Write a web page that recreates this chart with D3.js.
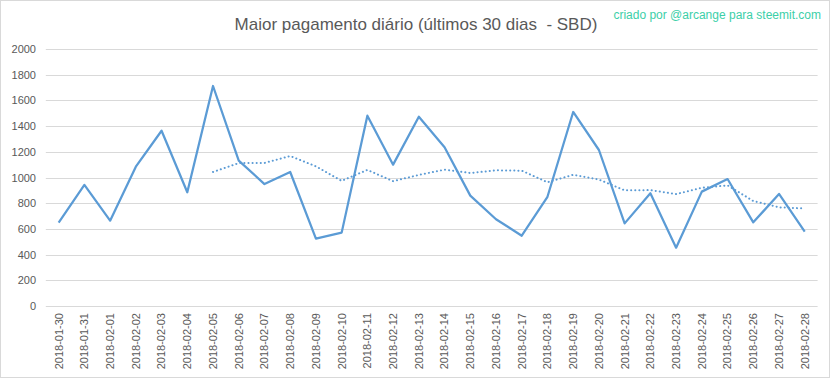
<!DOCTYPE html>
<html>
<head>
<meta charset="utf-8">
<script src="https://cdn.jsdelivr.net/npm/d3@7"></script>
<style>
  html, body { margin: 0; padding: 0; background: #fff; }
  svg { display: block; }
</style>
</head>
<body>
<svg id="chart" width="833" height="379"></svg>
<script>
const categories = ["2018-01-30","2018-01-31","2018-02-01","2018-02-02","2018-02-03","2018-02-04","2018-02-05","2018-02-06","2018-02-07","2018-02-08","2018-02-09","2018-02-10","2018-02-11","2018-02-12","2018-02-13","2018-02-14","2018-02-15","2018-02-16","2018-02-17","2018-02-18","2018-02-19","2018-02-20","2018-02-21","2018-02-22","2018-02-23","2018-02-24","2018-02-25","2018-02-26","2018-02-27","2018-02-28"];
const payouts = [648,942,664,1084,1364,885,1712,1131,949,1043,524,571,1481,1100,1473,1235,859,675,547,850,1510,1214,643,877,454,890,988,651,872,578];
// dotted trend line (starts at 2018-02-05)
const trend = [null,null,null,null,null,null,1043,1112,1113,1167,1087,974,1059,971,1020,1061,1035,1056,1053,963,1021,984,900,902,871,920,939,817,768,759];
const yTicks = [0,200,400,600,800,1000,1200,1400,1600,1800,2000];
const titleText = "Maior pagamento diário (últimos 30 dias  - SBD)";
const creditText = "criado por @arcange para steemit.com";

const svg = d3.select("#chart");
const plot = {left: 45.8, right: 817.6, top: 49, bottom: 306};
const font = "'Liberation Sans', Arial, sans-serif";

svg.append("rect").attr("x", 0.5).attr("y", 0.5).attr("width", 829).attr("height", 377)
  .attr("fill", "#fff").attr("stroke", "#D9D9D9").attr("stroke-width", 1);

const x = d3.scaleBand().domain(categories).range([plot.left, plot.right]);
const y = d3.scaleLinear().domain([0, 2000]).range([plot.bottom, plot.top]);
const cx = d => x(d) + x.bandwidth() / 2;

// gridlines
svg.append("g").selectAll("line").data(yTicks).join("line")
  .attr("x1", plot.left).attr("x2", plot.right)
  .attr("y1", d => Math.round(y(d)) + 0.5).attr("y2", d => Math.round(y(d)) + 0.5)
  .attr("stroke", "#D9D9D9").attr("stroke-width", 1);

// y axis labels
const yAxis = d3.axisLeft(y).tickValues(yTicks).tickFormat(d3.format("d")).tickSize(0).tickPadding(0);
const gy = svg.append("g").attr("transform", `translate(36,0)`).call(yAxis);
gy.select(".domain").remove();
gy.selectAll("text").attr("font-family", font).attr("font-size", 11).attr("fill", "#595959");

// x axis labels
const xAxis = d3.axisBottom(x).tickSize(0).tickPadding(0);
const gx = svg.append("g").attr("transform", `translate(0,${plot.bottom})`).call(xAxis);
gx.select(".domain").remove();
gx.selectAll("text")
  .attr("font-family", font).attr("font-size", 11).attr("fill", "#595959")
  .attr("transform", "rotate(-90)")
  .attr("text-anchor", "end")
  .attr("x", -7).attr("y", 0).attr("dy", "0.35em");

// lines
const line = d3.line().defined(d => d[1] != null).x(d => cx(d[0])).y(d => y(d[1]));
svg.append("path")
  .datum(categories.map((c, i) => [c, trend[i]]))
  .attr("d", line).attr("fill", "none")
  .attr("stroke", "#5B9BD5").attr("stroke-width", 2)
  .attr("stroke-dasharray", "0.1,4").attr("stroke-linecap", "round");
svg.append("path")
  .datum(categories.map((c, i) => [c, payouts[i]]))
  .attr("d", line).attr("fill", "none")
  .attr("stroke", "#5B9BD5").attr("stroke-width", 2.25)
  .attr("stroke-linejoin", "round");

// title
svg.append("text").attr("x", 416).attr("y", 24).attr("dy", "0.35em")
  .attr("text-anchor", "middle").attr("font-family", font).attr("font-size", 17)
  .attr("fill", "#595959").style("white-space", "pre").attr("xml:space", "preserve").text(titleText);

// credit
svg.append("text").attr("x", 821).attr("y", 14.5).attr("dy", "0.35em")
  .attr("text-anchor", "end").attr("font-family", font).attr("font-size", 12)
  .attr("fill", "#3CCFA8").text(creditText);
</script>
</body>
</html>
